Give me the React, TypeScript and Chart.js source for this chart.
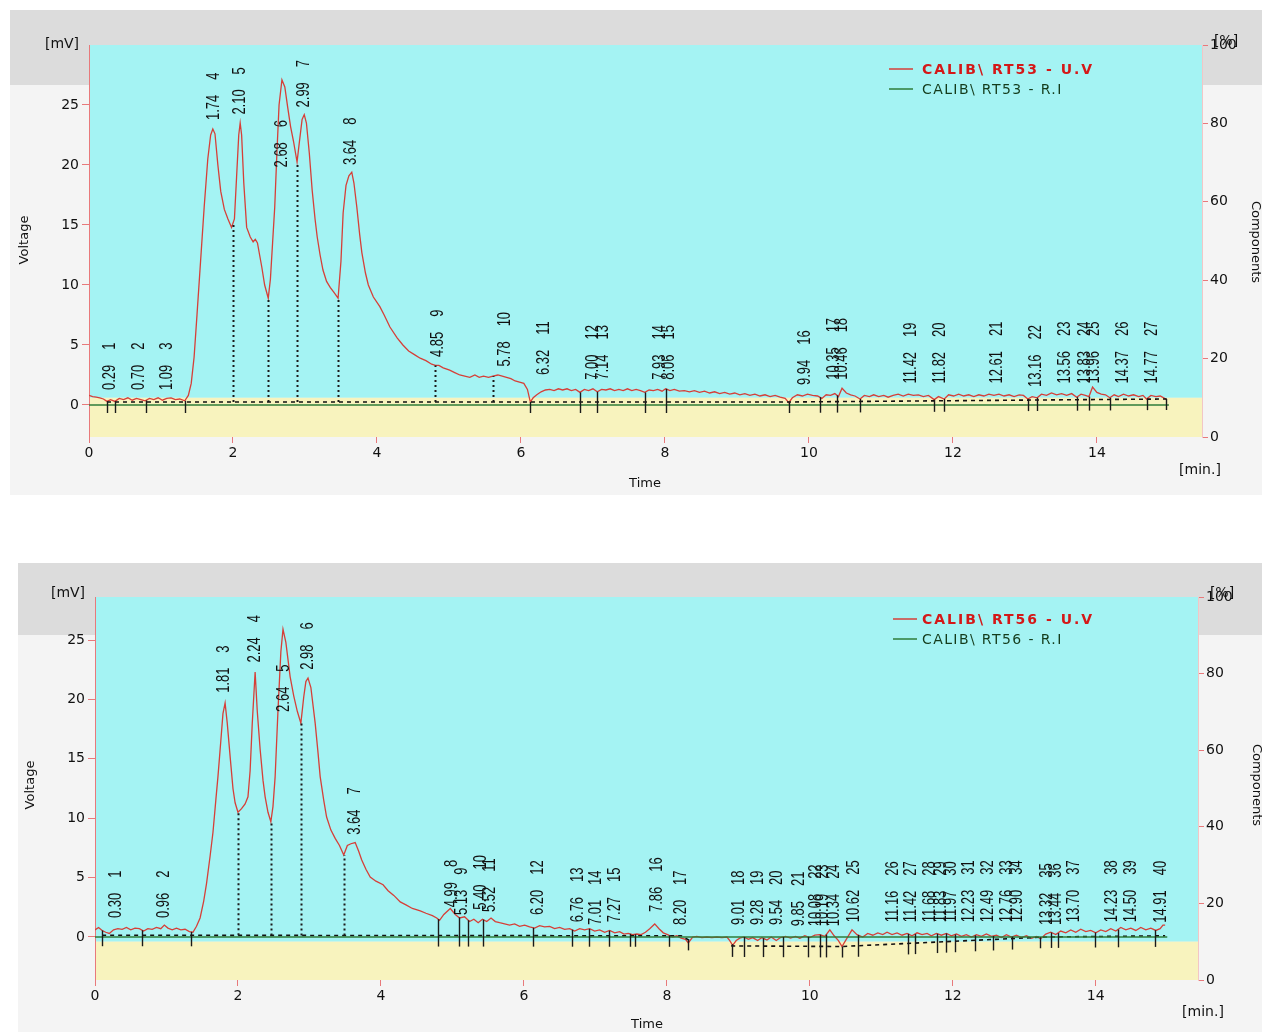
import React, { useEffect, useRef } from "react";
import { Chart, registerables } from "chart.js";

Chart.register(...registerables);

// ================= DATA =================
const xTickValues = [0, 2, 4, 6, 8, 10, 12, 14];
const voltageTickValues = [0, 5, 10, 15, 20, 25];
const componentTickValues = [0, 20, 40, 60, 80, 100];

// ---- Chromatogram 1 : CALIB\ RT53 ----
const rt53Legend = ["CALIB\\ RT53 - U.V", "CALIB\\ RT53 - R.I"];
// [time (min), signal (mV)]
const rt53UV: [number, number][] = [
  [0.00,0.8],[0.05,0.7],[0.10,0.65],[0.15,0.6],[0.20,0.5],[0.25,0.3],[0.30,0.45],[0.36,0.3],[0.42,0.55],[0.48,0.45],
  [0.54,0.6],[0.60,0.4],[0.66,0.55],[0.72,0.45],[0.78,0.35],[0.84,0.55],[0.90,0.45],[0.96,0.6],[1.02,0.4],[1.08,0.55],
  [1.14,0.6],[1.20,0.45],[1.26,0.5],[1.33,0.35],[1.38,0.8],[1.42,1.8],[1.46,4.0],[1.50,7.5],[1.55,12.0],[1.60,16.5],
  [1.65,20.5],[1.69,22.5],[1.72,23.0],[1.75,22.6],[1.79,20.0],[1.83,17.8],[1.88,16.3],[1.93,15.5],[1.98,14.8],[2.02,15.5],
  [2.05,19.0],[2.08,22.5],[2.10,23.5],[2.12,22.5],[2.15,18.5],[2.19,14.8],[2.24,14.0],[2.28,13.6],[2.31,13.8],[2.34,13.5],
  [2.37,12.5],[2.40,11.5],[2.44,10.0],[2.49,8.9],[2.52,10.5],[2.55,13.5],[2.58,16.5],[2.61,21.0],[2.64,25.0],[2.68,27.1],
  [2.72,26.5],[2.76,24.8],[2.80,23.2],[2.84,22.0],[2.89,20.25],[2.92,21.8],[2.96,23.8],[2.99,24.2],[3.02,23.5],[3.06,21.0],
  [3.10,17.9],[3.14,15.5],[3.17,14.0],[3.21,12.5],[3.25,11.25],[3.30,10.3],[3.35,9.8],[3.40,9.4],[3.46,8.9],[3.50,12.0],
  [3.53,16.0],[3.57,18.3],[3.61,19.1],[3.65,19.4],[3.68,18.5],[3.72,16.5],[3.76,14.2],[3.79,12.7],[3.84,11.0],[3.88,10.0],
  [3.95,9.0],[4.04,8.2],[4.10,7.5],[4.18,6.5],[4.28,5.6],[4.36,5.0],[4.44,4.5],[4.52,4.2],[4.60,3.9],[4.68,3.7],
  [4.76,3.4],[4.81,3.3],[4.86,3.3],[4.92,3.1],[5.01,2.9],[5.08,2.7],[5.15,2.5],[5.22,2.4],[5.29,2.3],[5.36,2.5],
  [5.42,2.3],[5.48,2.4],[5.55,2.3],[5.61,2.4],[5.68,2.5],[5.74,2.4],[5.80,2.3],[5.86,2.2],[5.92,2.0],[5.98,1.9],
  [6.04,1.8],[6.09,1.3],[6.13,0.25],[6.17,0.6],[6.22,0.85],[6.28,1.1],[6.34,1.25],[6.40,1.3],[6.46,1.2],[6.52,1.35],
  [6.58,1.25],[6.64,1.35],[6.70,1.2],[6.76,1.3],[6.82,1.05],[6.88,1.3],[6.94,1.2],[7.00,1.35],[7.06,1.1],[7.12,1.3],
  [7.18,1.25],[7.24,1.35],[7.30,1.2],[7.36,1.3],[7.42,1.2],[7.48,1.35],[7.54,1.2],[7.60,1.3],[7.66,1.2],[7.72,1.05],
  [7.78,1.25],[7.84,1.2],[7.90,1.3],[7.96,1.15],[8.01,1.35],[8.07,1.2],[8.13,1.3],[8.20,1.15],[8.27,1.2],[8.34,1.1],
  [8.41,1.2],[8.48,1.05],[8.55,1.15],[8.62,1.0],[8.69,1.1],[8.76,0.95],[8.83,1.05],[8.90,0.9],[8.97,1.0],[9.04,0.85],
  [9.11,0.95],[9.18,0.8],[9.25,0.9],[9.32,0.75],[9.39,0.85],[9.46,0.7],[9.53,0.8],[9.60,0.65],[9.67,0.55],[9.72,0.2],
  [9.77,0.6],[9.84,0.85],[9.91,0.75],[9.98,0.9],[10.05,0.8],[10.12,0.75],[10.18,0.55],[10.24,0.85],[10.30,0.8],[10.36,0.95],
  [10.41,0.7],[10.46,1.4],[10.52,1.0],[10.58,0.85],[10.64,0.75],[10.71,0.5],[10.77,0.8],[10.84,0.7],[10.90,0.85],[10.97,0.7],
  [11.04,0.8],[11.10,0.65],[11.17,0.8],[11.24,0.9],[11.31,0.75],[11.38,0.9],[11.45,0.8],[11.52,0.85],[11.59,0.7],[11.66,0.8],
  [11.74,0.45],[11.80,0.7],[11.88,0.5],[11.94,0.85],[12.01,0.75],[12.08,0.9],[12.15,0.75],[12.22,0.85],[12.29,0.7],[12.36,0.85],
  [12.43,0.75],[12.50,0.9],[12.57,0.8],[12.64,0.9],[12.71,0.75],[12.78,0.85],[12.85,0.7],[12.92,0.85],[12.98,0.8],[13.04,0.5],
  [13.10,0.7],[13.17,0.6],[13.23,0.9],[13.30,0.8],[13.37,1.0],[13.44,0.85],[13.51,0.95],[13.58,0.8],[13.65,0.95],[13.72,0.65],
  [13.78,0.9],[13.84,0.8],[13.89,0.7],[13.94,1.5],[14.00,1.05],[14.06,0.9],[14.12,0.85],[14.18,0.6],[14.24,0.85],[14.30,0.7],
  [14.37,0.9],[14.44,0.75],[14.51,0.85],[14.58,0.7],[14.64,0.8],[14.69,0.5],[14.75,0.8],[14.82,0.7],[14.88,0.75],[14.94,0.55],
  [14.97,0.45],
];
const rt53RI: [number, number][] = [[0, 0], [15, 0]];
const rt53Baseline: [number, number | null][] = [[0.25, 0.25], [9.72, 0.25], [14.97, 0.5]];
const rt53PeakTimes = [0.29,0.70,1.09,1.74,2.10,2.68,2.99,3.64,4.85,5.78,6.32,7.00,7.14,7.93,8.06,9.94,10.35,10.46,11.42,11.82,12.61,13.16,13.56,13.83,13.96,14.37,14.77];
const rt53PeakNumbers = [1,2,3,4,5,6,7,8,9,10,11,12,13,14,15,16,17,18,19,20,21,22,23,24,25,26,27];
const rt53LabelLevels = [1.25,1.25,1.25,23.75,24.2,19.8,24.8,20.0,4.0,3.2,2.5,2.1,2.1,2.1,2.1,1.67,2.1,2.1,1.8,1.8,1.8,1.5,1.8,1.8,1.8,1.8,1.8];
const rt53DropTimes = [2.00, 2.49, 2.89, 3.46, 4.81, 5.61];
const rt53MarkerTimes = [0.25,0.36,0.79,1.33,6.13,6.82,7.06,7.72,8.01,9.72,10.15,10.39,10.71,11.74,11.88,13.04,13.17,13.72,13.89,14.18,14.69,14.96];

// ---- Chromatogram 2 : CALIB\ RT56 ----
const rt56Legend = ["CALIB\\ RT56 - U.V", "CALIB\\ RT56 - R.I"];
const rt56UV: [number, number][] = [
  [0.00,0.6],[0.05,0.8],[0.10,0.55],[0.15,0.4],[0.20,0.3],[0.26,0.6],[0.32,0.7],[0.38,0.65],[0.44,0.8],[0.50,0.6],
  [0.56,0.75],[0.62,0.7],[0.68,0.5],[0.74,0.7],[0.80,0.65],[0.86,0.8],[0.92,0.7],[0.97,1.0],[1.02,0.75],[1.08,0.6],
  [1.14,0.75],[1.20,0.6],[1.26,0.65],[1.32,0.45],[1.37,0.4],[1.42,0.9],[1.47,1.6],[1.52,3.0],[1.56,4.5],[1.61,6.8],
  [1.65,8.8],[1.69,11.5],[1.72,13.5],[1.76,16.5],[1.79,18.8],[1.82,19.7],[1.85,18.0],[1.89,15.2],[1.93,12.5],[1.96,11.3],
  [2.00,10.5],[2.05,10.8],[2.10,11.2],[2.14,11.8],[2.17,14.0],[2.20,18.0],[2.24,22.3],[2.27,19.0],[2.31,15.8],[2.35,13.2],
  [2.38,11.8],[2.42,10.5],[2.46,9.7],[2.49,11.0],[2.52,13.5],[2.56,19.1],[2.60,24.0],[2.63,25.9],[2.67,24.8],[2.73,21.9],
  [2.78,20.3],[2.83,19.0],[2.88,18.0],[2.92,20.2],[2.95,21.5],[2.98,21.8],[3.02,21.0],[3.08,18.0],[3.12,15.5],[3.15,13.5],
  [3.20,11.5],[3.24,10.1],[3.30,9.0],[3.36,8.3],[3.42,7.7],[3.48,6.9],[3.53,7.7],[3.58,7.85],[3.64,7.95],[3.69,7.2],
  [3.73,6.5],[3.79,5.7],[3.85,5.05],[3.93,4.7],[4.03,4.4],[4.10,3.9],[4.18,3.5],[4.27,2.95],[4.35,2.7],[4.44,2.4],
  [4.55,2.2],[4.63,2.0],[4.72,1.8],[4.78,1.6],[4.82,1.4],[4.88,1.9],[4.97,2.4],[5.04,1.9],[5.10,1.6],[5.17,1.7],
  [5.24,1.3],[5.30,1.5],[5.36,1.2],[5.42,1.5],[5.48,1.3],[5.54,1.6],[5.60,1.3],[5.66,1.2],[5.73,1.1],[5.80,1.0],
  [5.87,1.1],[5.94,0.9],[6.01,1.0],[6.08,0.85],[6.15,0.75],[6.22,0.95],[6.29,0.85],[6.36,0.9],[6.43,0.7],[6.50,0.8],
  [6.57,0.65],[6.64,0.7],[6.71,0.5],[6.78,0.7],[6.85,0.6],[6.92,0.7],[6.99,0.5],[7.06,0.6],[7.13,0.4],[7.20,0.55],
  [7.27,0.35],[7.34,0.45],[7.40,0.25],[7.46,0.3],[7.52,0.2],[7.58,0.25],[7.64,0.2],[7.70,0.4],[7.76,0.7],[7.83,1.1],
  [7.89,0.7],[7.95,0.35],[8.01,0.2],[8.08,0.0],[8.14,0.1],[8.20,-0.1],[8.26,-0.2],[8.30,-0.5],[8.36,0.0],[8.42,0.05],
  [8.49,-0.05],[8.56,0.0],[8.63,-0.05],[8.70,0.0],[8.77,-0.05],[8.84,0.0],[8.88,-0.3],[8.92,-0.7],[8.97,-0.3],[9.02,-0.1],
  [9.08,0.0],[9.14,-0.2],[9.20,-0.05],[9.27,-0.3],[9.33,-0.05],[9.40,-0.25],[9.46,0.0],[9.53,-0.3],[9.59,-0.05],[9.66,0.05],
  [9.73,-0.1],[9.80,0.05],[9.86,-0.1],[9.93,0.1],[10.00,-0.05],[10.07,0.15],[10.14,0.2],[10.21,0.05],[10.28,0.6],[10.34,0.1],
  [10.40,-0.3],[10.45,-0.8],[10.52,-0.1],[10.59,0.6],[10.66,0.2],[10.74,0.0],[10.81,0.3],[10.88,0.15],[10.95,0.35],[11.02,0.2],
  [11.08,0.4],[11.15,0.2],[11.22,0.35],[11.29,0.15],[11.36,0.3],[11.43,0.1],[11.50,0.35],[11.57,0.2],[11.64,0.3],[11.70,0.1],
  [11.77,0.3],[11.84,0.15],[11.91,0.3],[11.98,0.1],[12.05,0.25],[12.12,0.05],[12.19,0.2],[12.26,0.0],[12.33,0.2],[12.40,0.05],
  [12.47,0.25],[12.54,0.05],[12.61,0.15],[12.68,-0.05],[12.75,0.2],[12.82,0.0],[12.89,0.15],[12.96,-0.05],[13.03,0.1],[13.10,-0.1],
  [13.17,0.05],[13.23,-0.15],[13.30,0.25],[13.37,0.4],[13.44,0.2],[13.51,0.5],[13.58,0.35],[13.65,0.6],[13.72,0.4],[13.79,0.65],
  [13.86,0.45],[13.93,0.55],[14.00,0.35],[14.07,0.6],[14.14,0.45],[14.21,0.7],[14.28,0.5],[14.35,0.8],[14.42,0.6],[14.49,0.75],
  [14.56,0.55],[14.63,0.8],[14.70,0.6],[14.77,0.75],[14.84,0.55],[14.90,0.7],[14.94,1.0],[14.97,1.0],
];
const rt56RI: [number, number][] = [[0, 0], [15, 0]];
const rt56Baseline: [number, number | null][] = [[0.10,0.15],[8.20,0.1],[8.32,-0.3],[8.6,null],[8.90,-0.75],[10.45,-0.8],[13.30,0.0],[14.97,0.1]];
const rt56PeakTimes = [0.30,0.96,1.81,2.24,2.64,2.98,3.64,4.99,5.13,5.40,5.52,6.20,6.76,7.01,7.27,7.86,8.20,9.01,9.28,9.54,9.85,10.08,10.19,10.34,10.62,11.16,11.42,11.68,11.83,11.97,12.23,12.49,12.76,12.90,13.32,13.44,13.70,14.23,14.50,14.91];
const rt56PeakNumbers = [1,2,3,4,5,6,7,8,9,10,11,12,13,14,15,16,17,18,19,20,21,22,23,24,25,26,27,28,29,30,31,32,33,34,35,36,37,38,39,40];
const rt56LabelLevels = [1.6,1.6,20.55,23.1,18.95,22.5,8.6,2.5,1.85,2.3,2.1,1.85,1.25,1.0,1.25,2.1,1.0,1.0,1.0,1.0,0.9,0.9,0.9,0.9,1.25,1.25,1.25,1.25,1.25,1.25,1.25,1.25,1.25,1.25,1.0,1.0,1.25,1.25,1.25,1.2];
const rt56DropTimes = [2.00, 2.46, 2.88, 3.48];
const rt56MarkerTimes = [0.10,0.66,1.34,4.80,5.09,5.22,5.43,6.13,6.67,6.91,7.19,7.48,7.55,8.03,8.29,8.91,9.08,9.35,9.62,9.97,10.14,10.23,10.45,10.67,11.37,11.47,11.78,11.91,12.03,12.31,12.56,12.83,13.22,13.38,13.47,13.99,14.31,14.83];

// ================= STYLE / LAYOUT =================
const AXIS_RED = "#e8797b";
const TRACE_RED = "#d63f38";
const RI_GREEN = "#2f7d3a";
const CYAN = "#a4f3f3";
const YELLOW = "#f8f3be";
const PANEL = "#f4f4f4";
const BAND = "#dcdcdc";
const TEXT = "#111111";
const AXIS_FONT = "'DejaVu Sans', Verdana, sans-serif";

const topLayout = {
  canvasTop: 0, height: 516, plotLeft: 89, plotRight: 1202, plotTop: 45, plotBottom: 437,
  xMax: 15.46, yMin: -2.667, yMax: 30,
  panelLeft: 10, panelTop: 10, panelBottom: 495, bandBottom: 85,
  legendLineX: 889, legendTextX: 922, legendY: 70,
  mvX: 62, mvY: 44, pctX: 1226, pctY: 41, voltageX: 25, voltageY: 240,
  compX: 1255, compY: 242, timeX: 645, timeY: 484, minX: 1200, minY: 470,
};
const bottomLayout = {
  canvasTop: 516, height: 516, plotLeft: 95, plotRight: 1198, plotTop: 81, plotBottom: 464,
  xMax: 15.43, yMin: -3.62, yMax: 28.62,
  panelLeft: 18, panelTop: 47, panelBottom: 516, bandBottom: 119,
  legendLineX: 893, legendTextX: 922, legendY: 104,
  mvX: 68, mvY: 77, pctX: 1222, pctY: 77, voltageX: 31, voltageY: 269,
  compX: 1256, compY: 269, timeX: 647, timeY: 509, minX: 1203, minY: 496,
};

type Series = {
  legend: string[]; uv: [number, number][]; ri: [number, number][]; baseline: [number, number | null][];
  peakTimes: number[]; peakNumbers: number[]; labelLevels: number[]; dropTimes: number[]; markerTimes: number[];
};

const rt53: Series = { legend: rt53Legend, uv: rt53UV, ri: rt53RI, baseline: rt53Baseline, peakTimes: rt53PeakTimes,
  peakNumbers: rt53PeakNumbers, labelLevels: rt53LabelLevels, dropTimes: rt53DropTimes, markerTimes: rt53MarkerTimes };
const rt56: Series = { legend: rt56Legend, uv: rt56UV, ri: rt56RI, baseline: rt56Baseline, peakTimes: rt56PeakTimes,
  peakNumbers: rt56PeakNumbers, labelLevels: rt56LabelLevels, dropTimes: rt56DropTimes, markerTimes: rt56MarkerTimes };

function valueAt(series: [number, number | null][], t: number): number {
  let prev: [number, number] | null = null;
  for (const p of series) {
    if (p[1] === null) { prev = null; continue; }
    if (p[0] >= t) {
      if (!prev) return p[1] as number;
      const f = (t - prev[0]) / (p[0] - prev[0]);
      return prev[1] + f * ((p[1] as number) - prev[1]);
    }
    prev = [p[0], p[1] as number];
  }
  return prev ? prev[1] : 0;
}

function makeDecor(layout: any, s: Series) {
  return {
    id: "chromDecor",
    beforeDraw(chart: any) {
      const ctx = chart.ctx;
      const { left, right, top, bottom } = chart.chartArea;
      ctx.save();
      ctx.fillStyle = "#ffffff";
      ctx.fillRect(0, 0, chart.width, chart.height);
      ctx.fillStyle = PANEL;
      ctx.fillRect(layout.panelLeft, layout.panelTop, chart.width - layout.panelLeft, layout.panelBottom - layout.panelTop);
      ctx.fillStyle = BAND;
      ctx.fillRect(layout.panelLeft, layout.panelTop, chart.width - layout.panelLeft, layout.bandBottom - layout.panelTop);
      const split = chart.scales.yRight.getPixelForValue(10);
      ctx.fillStyle = CYAN;
      ctx.fillRect(left, top, right - left, split - top);
      ctx.fillStyle = YELLOW;
      ctx.fillRect(left, split, right - left, bottom - split);
      ctx.restore();
    },
    afterDatasetsDraw(chart: any) {
      const ctx = chart.ctx;
      const xs = chart.scales.x;
      const ys = chart.scales.y;
      ctx.save();
      // dotted drop lines
      ctx.strokeStyle = "#1a1a1a";
      ctx.lineWidth = 2;
      ctx.setLineDash([2, 3]);
      for (const t of s.dropTimes) {
        const x = Math.round(xs.getPixelForValue(t)) + 0.5;
        const yT = ys.getPixelForValue(valueAt(s.uv, t));
        const yB = ys.getPixelForValue(valueAt(s.baseline, t));
        ctx.beginPath(); ctx.moveTo(x, yB); ctx.lineTo(x, yT); ctx.stroke();
      }
      // peak start/end markers
      ctx.setLineDash([]);
      ctx.lineWidth = 1.4;
      for (const t of s.markerTimes) {
        const x = Math.round(xs.getPixelForValue(t)) + 0.5;
        const yT = ys.getPixelForValue(valueAt(s.uv, t));
        const yB = ys.getPixelForValue(valueAt(s.baseline, t));
        ctx.beginPath(); ctx.moveTo(x, Math.min(yT, yB)); ctx.lineTo(x, yB + 11); ctx.stroke();
      }
      // peak labels (vertical)
      ctx.fillStyle = TEXT;
      ctx.font = "18px 'Liberation Sans', Arial, sans-serif";
      ctx.textBaseline = "middle";
      ctx.textAlign = "left";
      const sx = 0.72;
      s.peakTimes.forEach((t, i) => {
        const x = xs.getPixelForValue(t);
        const y = ys.getPixelForValue(s.labelLevels[i]);
        const rtText = t.toFixed(2);
        ctx.save();
        ctx.translate(x, y);
        ctx.rotate(-Math.PI / 2);
        ctx.scale(sx, 1);
        ctx.fillText(rtText, 0, 0);
        const w = ctx.measureText(rtText).width;
        ctx.fillText(String(s.peakNumbers[i]), w + 15 / sx, 0);
        ctx.restore();
      });
      ctx.restore();
    },
    afterDraw(chart: any) {
      const ctx = chart.ctx;
      ctx.save();
      // legend
      const rows = [
        { color: TRACE_RED, text: s.legend[0], font: `bold 14px ${AXIS_FONT}`, spacing: "2px", textColor: "#d41818" },
        { color: RI_GREEN, text: s.legend[1], font: `14px ${AXIS_FONT}`, spacing: "1.4px", textColor: "#143c1c" },
      ];
      rows.forEach((r, i) => {
        const y = layout.legendY + i * 20;
        ctx.strokeStyle = r.color; ctx.lineWidth = 1.5;
        ctx.beginPath(); ctx.moveTo(layout.legendLineX, y - 1); ctx.lineTo(layout.legendLineX + 24, y - 1); ctx.stroke();
        ctx.fillStyle = r.textColor; ctx.font = r.font;
        (ctx as any).letterSpacing = r.spacing;
        ctx.textAlign = "left"; ctx.textBaseline = "middle";
        ctx.fillText(r.text, layout.legendTextX, y);
      });
      (ctx as any).letterSpacing = "0px";
      ctx.fillStyle = TEXT;
      ctx.textAlign = "center"; ctx.textBaseline = "middle";
      ctx.font = `14px ${AXIS_FONT}`;
      ctx.fillText("[mV]", layout.mvX, layout.mvY);
      ctx.fillText("[%]", layout.pctX, layout.pctY);
      ctx.fillText("[min.]", layout.minX, layout.minY);
      ctx.font = `13px ${AXIS_FONT}`;
      ctx.fillText("Time", layout.timeX, layout.timeY);
      ctx.save();
      ctx.translate(layout.voltageX, layout.voltageY); ctx.rotate(-Math.PI / 2);
      ctx.fillText("Voltage", 0, 0);
      ctx.restore();
      ctx.save();
      ctx.translate(layout.compX, layout.compY); ctx.rotate(Math.PI / 2);
      ctx.fillText("Components", 0, 0);
      ctx.restore();
      ctx.restore();
    },
  };
}

function makeConfig(layout: any, s: Series): any {
  const tickFont = { family: AXIS_FONT, size: 14 };
  return {
    type: "line",
    data: {
      datasets: [
        { label: s.legend[1], data: s.ri.map(([x, y]) => ({ x, y })), borderColor: RI_GREEN, borderWidth: 1.5, pointRadius: 0, xAxisID: "x", yAxisID: "y" },
        { label: "baseline", data: s.baseline.map(([x, y]) => ({ x, y })), borderColor: "#111111", borderDash: [4, 4], borderWidth: 1.6, pointRadius: 0, spanGaps: false, xAxisID: "x", yAxisID: "y" },
        { label: s.legend[0], data: s.uv.map(([x, y]) => ({ x, y })), borderColor: TRACE_RED, borderWidth: 1.3, pointRadius: 0, tension: 0, xAxisID: "x", yAxisID: "y" },
      ],
    },
    options: {
      responsive: false,
      maintainAspectRatio: false,
      animation: false,
      devicePixelRatio: 1,
      events: [],
      layout: { padding: { top: layout.plotTop, left: 0, right: 0, bottom: 0 } },
      plugins: { legend: { display: false }, tooltip: { enabled: false } },
      scales: {
        x: {
          type: "linear", position: "bottom", min: 0, max: layout.xMax,
          afterBuildTicks: (sc: any) => { sc.ticks = xTickValues.map((v) => ({ value: v })); },
          afterFit: (sc: any) => { sc.height = layout.height - layout.plotBottom; },
          ticks: { font: tickFont, color: TEXT, padding: 2, maxRotation: 0, autoSkip: false },
          grid: { drawOnChartArea: false, drawTicks: true, tickLength: 6, color: AXIS_RED },
          border: { display: false },
        },
        y: {
          type: "linear", position: "left", min: layout.yMin, max: layout.yMax,
          afterBuildTicks: (sc: any) => { sc.ticks = voltageTickValues.map((v) => ({ value: v })); },
          afterFit: (sc: any) => { sc.width = layout.plotLeft; },
          ticks: { font: tickFont, color: TEXT, padding: 3 },
          grid: { drawOnChartArea: false, drawTicks: true, tickLength: 7, color: AXIS_RED },
          border: { display: true, color: AXIS_RED, width: 1 },
        },
        yRight: {
          type: "linear", position: "right", min: 0, max: 100,
          afterBuildTicks: (sc: any) => { sc.ticks = componentTickValues.map((v) => ({ value: v })); },
          afterFit: (sc: any) => { sc.width = 1262 - layout.plotRight; },
          ticks: { font: tickFont, color: TEXT, padding: 2 },
          grid: { drawOnChartArea: false, drawTicks: true, tickLength: 6, color: AXIS_RED },
          border: { display: true, color: "#f2c6c6", width: 1 },
        },
      },
    },
    plugins: [makeDecor(layout, s)],
  };
}

function ChromPanel({ layout, series }: { layout: any; series: Series }) {
  const ref = useRef<HTMLCanvasElement>(null);
  useEffect(() => {
    if (!ref.current) return;
    const chart = new Chart(ref.current, makeConfig(layout, series));
    return () => chart.destroy();
  }, [layout, series]);
  return (
    <canvas
      ref={ref}
      width={1262}
      height={layout.height}
      style={{ position: "absolute", left: 0, top: layout.canvasTop, width: 1262, height: layout.height, display: "block" }}
    />
  );
}

export default function App() {
  return (
    <div style={{ position: "absolute", left: 0, top: 0, width: 1262, height: 1032, background: "#ffffff", overflow: "hidden" }}>
      <ChromPanel layout={topLayout} series={rt53} />
      <ChromPanel layout={bottomLayout} series={rt56} />
    </div>
  );
}
